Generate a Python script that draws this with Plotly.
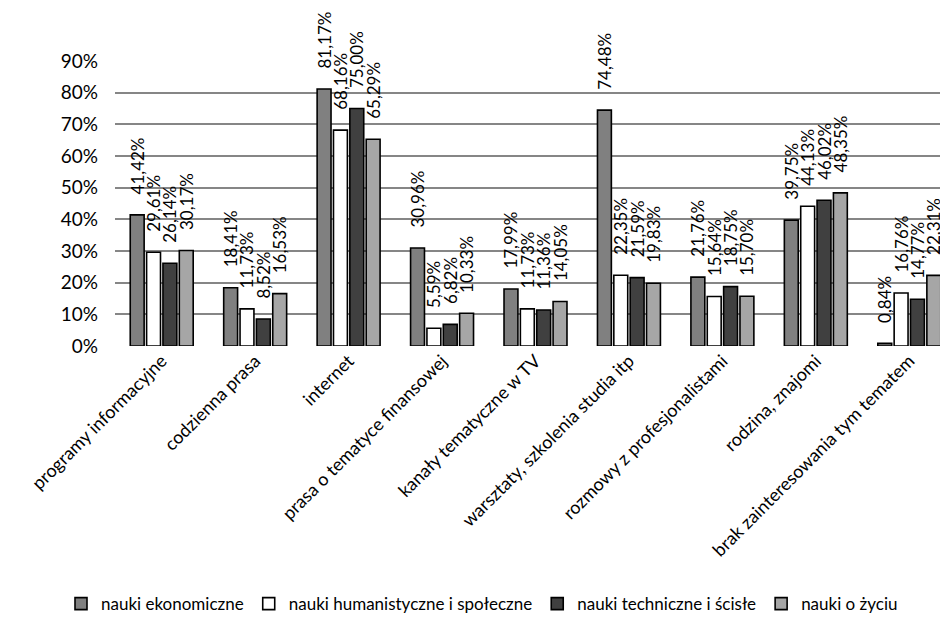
import plotly.graph_objects as go

categories = ["programy informacyjne", "codzienna prasa", "internet",
              "prasa o tematyce finansowej", "kanały tematyczne w TV",
              "warsztaty, szkolenia studia itp", "rozmowy z profesjonalistami",
              "rodzina, znajomi", "brak zainteresowania tym tematem"]

series_names = ["nauki ekonomiczne", "nauki humanistyczne i społeczne",
                "nauki techniczne i ścisłe", "nauki o życiu"]

ekonomiczne = [41.42, 18.41, 81.17, 30.96, 17.99, 74.48, 21.76, 39.75, 0.84]
humanistyczne = [29.61, 11.73, 68.16, 5.59, 11.73, 22.35, 15.64, 44.13, 16.76]
techniczne = [26.14, 8.52, 75.00, 6.82, 11.36, 21.59, 18.75, 46.02, 14.77]
o_zyciu = [30.17, 16.53, 65.29, 10.33, 14.05, 19.83, 15.70, 48.35, 22.31]

tick_vals = [0, 10, 20, 30, 40, 50, 60, 70, 80, 90]
tick_text = [f"{v}%" for v in tick_vals]

colors = ["#808080", "#ffffff", "#404040", "#a6a6a6"]
FONT = "Lato"

fig = go.Figure()
for name, vals, col in zip(series_names,
                           [ekonomiczne, humanistyczne, techniczne, o_zyciu],
                           colors):
    labels = ["\u00a0\u00a0\u00a0\u00a0" + f"{v:.2f}".replace(".", ",") + "%" for v in vals]
    fig.add_trace(go.Bar(
        name=name, x=categories, y=vals,
        marker=dict(color=col, line=dict(color="#000000", width=1.6)),
        text=labels, textposition="outside", textangle=-90,
        constraintext="none", cliponaxis=False,
        textfont=dict(family=FONT, size=17, color="#000000"),
    ))

fig.update_layout(
    width=948, height=619,
    margin=dict(l=107, r=0, t=53, b=281),
    paper_bgcolor="white", plot_bgcolor="white",
    barmode="group", bargap=0.3, bargroupgap=0.15,
    font=dict(family=FONT, size=18, color="#000000"),
    showlegend=True,
    legend=dict(orientation="h", xref="container", x=0.5, xanchor="center",
                yref="container", y=0.008, yanchor="bottom",
                font=dict(family=FONT, size=17, color="#000000"),
                itemwidth=30, tracegroupgap=0),
    xaxis=dict(range=[-0.5, 8.5], tickangle=-45, showline=False,
               showgrid=False, ticks="", tickfont=dict(family=FONT, size=18)),
    yaxis=dict(range=[0, 90], tickvals=tick_vals, ticktext=tick_text,
               showgrid=True, gridcolor="#868686", gridwidth=2,
               zeroline=False, showline=False, ticks="",
               ticklabelstandoff=16, tickfont=dict(family=FONT, size=19)),
)

fig.write_html("out.html")
